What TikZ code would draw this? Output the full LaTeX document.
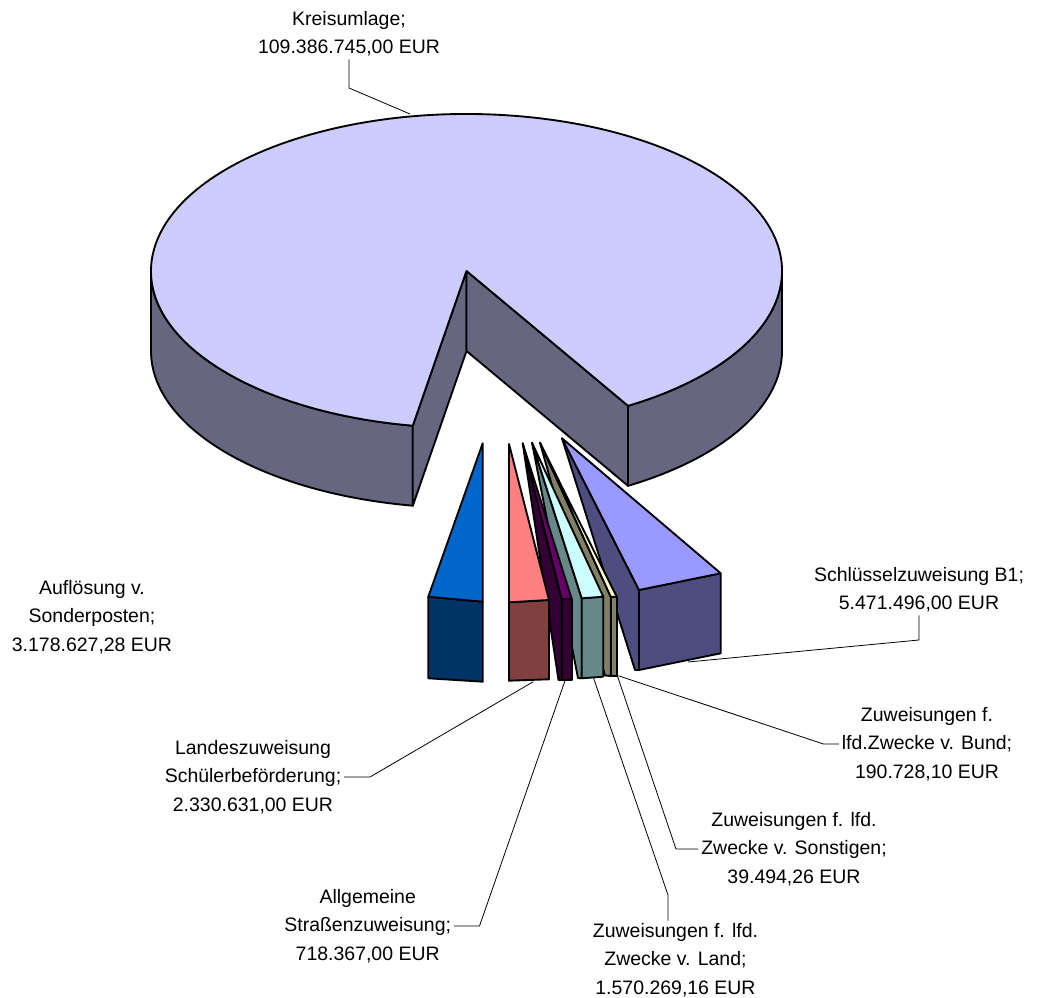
\documentclass[tikz,border=0pt]{standalone}
\usepackage{fontspec}
\setmainfont{Liberation Sans}
\usepackage{tikz}
\definecolor{kreistop}{RGB}{204,204,255}
\definecolor{kreisside}{RGB}{102,102,128}
\definecolor{schltop}{RGB}{153,153,255}
\definecolor{schldark}{RGB}{77,77,128}
\definecolor{sonsttop}{RGB}{255,255,204}
\definecolor{sonstdark}{RGB}{128,128,102}
\definecolor{landtop}{RGB}{204,255,255}
\definecolor{landdark}{RGB}{102,136,136}
\definecolor{strtop}{RGB}{102,0,102}
\definecolor{strdark}{RGB}{51,0,51}
\definecolor{landestop}{RGB}{255,128,128}
\definecolor{landesdark}{RGB}{128,64,64}
\definecolor{auftop}{RGB}{0,102,204}
\definecolor{aufdark}{RGB}{0,51,102}

\begin{document}
\begin{tikzpicture}[x=0.75pt, y=-0.75pt,
slice/.style={draw=black, line width=1.4pt, line join=round},
leader/.style={draw=black, line width=0.6pt},
lbl/.style={align=center, inner sep=2pt, font=\fontsize{14.6}{21.2}\selectfont},
]
\useasboundingbox (0,0) rectangle (1039,998);

% Kreisumlage
\coordinate (kc) at (466.5,271);
\coordinate (kb) at (466.5,351);
\path (kc) ++(99.8:315.5 and 157) coordinate (kl);
\path (kc) ++(59.2:315.5 and 157) coordinate (kr);
\path (kc) ++(0:315.5 and 157) coordinate (ke);
\path[slice, fill=kreisside] (kl) arc[start angle=99.8, end angle=180, x radius=315.5, y radius=157]
  -- ++(0,80) arc[start angle=180, end angle=99.8, x radius=315.5, y radius=157] -- cycle;
\path[slice, fill=kreisside] (ke) arc[start angle=0, end angle=59.2, x radius=315.5, y radius=157]
  -- ++(0,80) arc[start angle=59.2, end angle=0, x radius=315.5, y radius=157] -- cycle;
\path[slice, fill=kreisside] (kc) -- (kl) -- ++(0,80) -- (kb) -- cycle;
\path[slice, fill=kreisside] (kc) -- (kr) -- ++(0,80) -- (kb) -- cycle;
\path[slice, fill=kreistop] (kc) -- (kl) arc[start angle=99.8, end angle=419.2, x radius=315.5, y radius=157] -- cycle;

% exploded slices, back to front
\path[slice, fill=schldark] (562,438.3) -- (639,590) -- (639,670) -- (635,670) -- cycle;
\path[slice, fill=schldark] (639,590) -- (720.7,573.3) -- (720.7,653.3) -- (639,670) -- cycle;
\path[slice, fill=schltop] (562,438.3) -- (639,590) -- (720.7,573.3) -- cycle;

\path[slice, fill=sonstdark] (540,442.7) -- (610.7,596.7) -- (610.7,676) -- (605,675.5) -- cycle;
\path[slice, fill=sonstdark] (610.7,596.7) -- (616.7,596.7) -- (616.7,676) -- (610.7,676) -- cycle;
\path[slice, fill=sonsttop] (540,442.7) -- (610.7,596.7) -- (616.7,596.7) -- cycle;

\path[slice, fill=landdark] (532,442.7) -- (581.7,598.3) -- (581.7,678.3) -- (578,678) -- cycle;
\path[slice, fill=landdark] (581.7,598.3) -- (603.3,596.7) -- (603.3,676.7) -- (581.7,678.3) -- cycle;
\path[slice, fill=landtop] (532,442.7) -- (581.7,598.3) -- (603.3,596.7) -- cycle;

\path[slice, fill=strdark] (522.7,443.3) -- (561.7,599) -- (561.7,680) -- (558.5,680) -- cycle;
\path[slice, fill=strdark] (561.7,599) -- (571.7,599) -- (571.7,680) -- (561.7,680) -- cycle;
\path[slice, fill=strtop] (522.7,443.3) -- (561.7,599) -- (571.7,599) -- cycle;

\path[slice, fill=landesdark] (509,602.3) -- (549,600) -- (549,679.3) -- (509,680.7) -- cycle;
\path[slice, fill=landestop] (509,444) -- (509,602.3) -- (549,600) -- cycle;

\path[slice, fill=aufdark] (428.3,596.7) -- (482.7,601.7) -- (482.7,681.7) -- (428.3,678.3) -- cycle;
\path[slice, fill=auftop] (482.7,443.3) -- (428.3,596.7) -- (482.7,601.7) -- cycle;

% labels
\node[lbl] (kreis) at (349,34) {Kreisumlage;\\109.386.745,00 EUR};
\node[lbl] (schl) at (919,590) {Schlüsselzuweisung B1;\\5.471.496,00 EUR};
\node[lbl] (bund) at (927,744) {Zuweisungen f.\\lfd.Zwecke v. Bund;\\190.728,10 EUR};
\node[lbl] (sonst) at (794,849) {Zuweisungen f. lfd.\\Zwecke v. Sonstigen;\\39.494,26 EUR};
\node[lbl] (land) at (675.5,960) {Zuweisungen f. lfd.\\Zwecke v. Land;\\1.570.269,16 EUR};
\node[lbl] (strassen) at (367.7,926) {Allgemeine\\Straßenzuweisung;\\718.367,00 EUR};
\node[lbl] (landes) at (253,777) {Landeszuweisung\\Schülerbeförderung;\\2.330.631,00 EUR};
\node[lbl] (auf) at (92,617) {Auflösung v.\\Sonderposten;\\3.178.627,28 EUR};

% leader lines
\coordinate (kreisbend) at (349,88);
\coordinate (kreispt) at (410,114);
\coordinate (schlbend) at (919,640);
\coordinate (schlpt) at (688,662);
\coordinate (bundbend) at (823.3,744);
\coordinate (bundpt) at (618.3,675.7);
\coordinate (sonstbend) at (676,849);
\coordinate (sonstpt) at (617.3,675.7);
\coordinate (landbend) at (668,895);
\coordinate (landpt) at (593.3,677.3);
\coordinate (strbend) at (479.5,926);
\coordinate (strpt) at (565,680.7);
\coordinate (landesbend) at (370,777);
\coordinate (landespt) at (533.3,681.7);

\draw[leader] (kreis.south) -- (kreisbend) -- (kreispt);
\draw[leader] (schl.south) -- (schlbend) -- (schlpt);
\draw[leader] (bund.west) -- (bundbend) -- (bundpt);
\draw[leader] (sonst.west) -- (sonstbend) -- (sonstpt);
\draw[leader] (land.north -| landbend) -- (landbend) -- (landpt);
\draw[leader] (strassen.east) -- (strbend) -- (strpt);
\draw[leader] (landes.east) -- (landesbend) -- (landespt);
\end{tikzpicture}
\end{document}
